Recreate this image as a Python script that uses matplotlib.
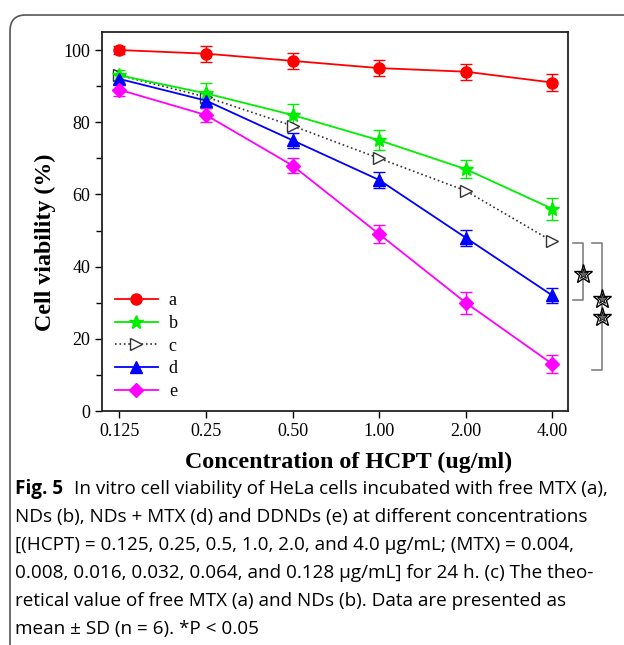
import matplotlib.pyplot as plt
import matplotlib.patches as mpatches
from matplotlib.lines import Line2D

plt.rcParams['font.family'] = ['Liberation Serif', 'DejaVu Serif']

conc_labels = ['0.125', '0.25', '0.50', '1.00', '2.00', '4.00']

a_vals = [100, 99, 97, 95, 94, 91]
a_err = [1.0, 2.2, 2.3, 2.3, 2.2, 2.3]
b_vals = [93, 88, 82, 75, 67, 56]
b_err = [1.5, 3.0, 3.0, 2.8, 2.5, 3.0]
c_vals = [93, 87, 79, 70, 61, 47]
d_vals = [92, 86, 75, 64, 48, 32]
d_err = [1.5, 2.0, 2.0, 2.2, 2.2, 2.2]
e_vals = [89, 82, 68, 49, 30, 13]
e_err = [1.8, 2.0, 2.2, 2.5, 3.0, 2.5]

caption_lines = [
    "In vitro cell viability of HeLa cells incubated with free MTX (a),",
    "NDs (b), NDs + MTX (d) and DDNDs (e) at different concentrations",
    "[(HCPT) = 0.125, 0.25, 0.5, 1.0, 2.0, and 4.0 \u03bcg/mL; (MTX) = 0.004,",
    "0.008, 0.016, 0.032, 0.064, and 0.128 \u03bcg/mL] for 24 h. (c) The theo-",
    "retical value of free MTX (a) and NDs (b). Data are presented as",
    "mean \u00b1 SD (n = 6). *P < 0.05",
]

fig = plt.figure(figsize=(6.24, 6.45), dpi=100)

# outer rounded frame
frame = mpatches.FancyBboxPatch((10 / 624, -0.2), 1.2, (645 - 15) / 645 + 0.2,
                                boxstyle='round,pad=0,rounding_size=0.025',
                                transform=fig.transFigure, fill=False,
                                edgecolor='#555555', linewidth=1.2)
fig.patches.append(frame)

ax = fig.add_axes([102 / 624, (645 - 411) / 645, (568 - 102) / 624, (411 - 32) / 645])
x = list(range(len(conc_labels)))

series = [
    ('a', a_vals, a_err, 'red', 'o', '-', 8),
    ('b', b_vals, b_err, '#00ee00', '*', '-', 10),
    ('c', c_vals, None, '#333333', '>', ':', 8),
    ('d', d_vals, d_err, 'blue', '^', '-', 8),
    ('e', e_vals, e_err, 'magenta', 'D', '-', 7),
]
handles = []
for name, vals, err, col, mk, ls, ms in series:
    if name == 'c':
        ax.plot(x, vals, color=col, linestyle=ls, linewidth=1.2, marker=mk,
                markersize=ms, markerfacecolor='white', markeredgecolor=col, zorder=3)
        h = Line2D([], [], color=col, linestyle=ls, linewidth=1.2, marker=mk, markersize=ms,
                   markerfacecolor='white', markeredgecolor=col)
    else:
        ax.errorbar(x, vals, yerr=err, color=col, linestyle=ls, linewidth=1.3, marker=mk,
                    markersize=ms, capsize=4, elinewidth=1.0, capthick=1.0, zorder=3)
        h = Line2D([], [], color=col, linestyle=ls, linewidth=1.3, marker=mk, markersize=ms)
    handles.append(h)

ax.legend(handles, [s[0] for s in series], loc='lower left', bbox_to_anchor=(0.0, -0.005),
          frameon=False, fontsize=13, handlelength=2.4, handletextpad=0.6,
          labelspacing=0.32, borderaxespad=0.3)

ax.set_xlim(-0.2, 5.18)
ax.set_ylim(0, 105)
ax.set_xticks(x)
ax.set_xticklabels(conc_labels)
ax.set_yticks([0, 20, 40, 60, 80, 100])
ax.set_yticks([10, 30, 50, 70, 90], minor=True)
ax.tick_params(axis='both', which='major', direction='out', length=5, width=1.0, labelsize=13)
ax.tick_params(axis='y', which='minor', direction='out', length=4, width=1.0)
for sp in ax.spines.values():
    sp.set_linewidth(1.3)
    sp.set_color('#222222')

ax.set_xlabel('Concentration of HCPT (ug/ml)', fontsize=17.3, fontweight='bold', va='center')
ax.set_ylabel('Cell viability (%)', fontsize=17.3, fontweight='bold', va='center')
ax.xaxis.set_label_coords(0.53, -0.135)
ax.yaxis.set_label_coords(-0.122, 0.446)

# significance brackets (in data coords for y, figure px for x)
bt = ax.get_yaxis_transform()
def xf(px):
    return (px - 102) / (568 - 102)

gray = '#808080'
ax.plot([xf(573), xf(583), xf(583), xf(573)], [46.5, 46.5, 30.8, 30.8],
        transform=bt, color=gray, linewidth=1.2, clip_on=False)
ax.plot([xf(592), xf(602), xf(602), xf(592)], [46.5, 46.5, 11.3, 11.3],
        transform=bt, color=gray, linewidth=1.2, clip_on=False)
for sx, sy in [(583, 38.0), (602, 31.0), (602, 26.0)]:
    ax.plot([xf(sx)], [sy], transform=bt, marker='*', markersize=14, markerfacecolor='white',
            markeredgecolor='black', markeredgewidth=1.0, clip_on=False, zorder=5)
    ax.plot([xf(sx)], [sy], transform=bt, marker='*', markersize=8, markerfacecolor='#666666',
            markeredgecolor='black', markeredgewidth=0.6, clip_on=False, zorder=6)

# caption
cap_font = ['Open Sans', 'DejaVu Sans']
cap_size = 13.6
y0 = 1 - 489 / 645
fig.text(15 / 624, y0, 'Fig. 5', fontsize=cap_size, fontweight='bold', family=cap_font,
         va='center', ha='left')
fig.text(74 / 624, y0, caption_lines[0], fontsize=cap_size, family=cap_font, va='center', ha='left')
for i, line in enumerate(caption_lines[1:], start=1):
    fig.text(15 / 624, 1 - (489 + 28 * i) / 645, line, fontsize=cap_size, family=cap_font,
             va='center', ha='left')

fig.savefig('out.png', dpi=100)
